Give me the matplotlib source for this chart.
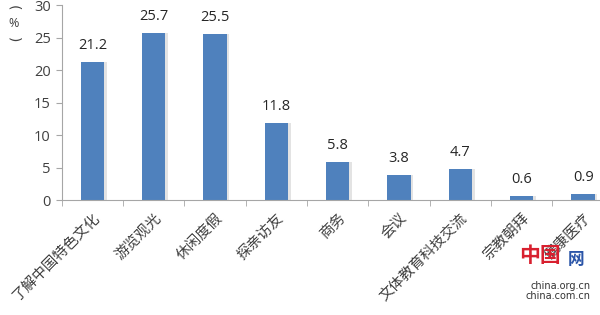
import matplotlib.pyplot as plt
import numpy as np

plt.rcParams['font.family'] = ['Noto Sans CJK SC', 'DejaVu Sans']

# data
categories = ['了解中国特色文化', '游览观光', '休闲度假', '探亲访友', '商务',
              '会议', '文体教育科技交流', '宗教朝拜', '健康医疗']
values = [21.2, 25.7, 25.5, 11.8, 5.8, 3.8, 4.7, 0.6, 0.9]
yticks = [0, 5, 10, 15, 20, 25, 30]

bar_color = '#4f81bd'
axis_color = '#a6a6a6'
text_color = '#404040'

fig = plt.figure(figsize=(6, 3.15), dpi=100)
ax = fig.add_axes([0.103, 0.365, 0.92, 0.619])

x = np.arange(len(categories))
# soft shadow behind the bars
ax.bar(x + 0.025, values, width=0.41, color='#e3e3e3', zorder=1)
ax.bar(x, values, width=0.38, color=bar_color, zorder=2)

for xi, v in zip(x, values):
    ax.text(xi, v + 1.4, f'{v}', ha='center', va='bottom',
            fontsize=10.5, color='#262626', family='Open Sans')

ax.set_xlim(-0.5, len(categories) - 0.5)
ax.set_ylim(0, 30)
ax.set_yticks(yticks)
ax.set_yticklabels([str(t) for t in yticks], fontsize=10.5, color=text_color,
                   family='Open Sans')

ax.set_xticks(x)
ax.set_xticklabels(categories, rotation=45, ha='right', rotation_mode='anchor',
                   fontsize=10.5, color=text_color)
ax.set_xticks(np.arange(len(categories) + 1) - 0.5, minor=True)
ax.tick_params(axis='x', which='major', length=0, pad=8)
ax.tick_params(axis='x', which='minor', length=4, color=axis_color)
ax.tick_params(axis='y', length=4, color=axis_color, pad=4)

for side in ['top', 'right']:
    ax.spines[side].set_visible(False)
for side in ['left', 'bottom']:
    ax.spines[side].set_color(axis_color)

# unit label, brackets turned like vertical text
fig.text(0.022, 0.975, '(', rotation=-90, ha='center', va='center',
         fontsize=10, color=text_color, family='DejaVu Sans')
fig.text(0.022, 0.925, '%', ha='center', va='center',
         fontsize=9, color=text_color, family='Open Sans')
fig.text(0.022, 0.875, ')', rotation=-90, ha='center', va='center',
         fontsize=10, color=text_color, family='DejaVu Sans')

# watermark
fig.text(0.985, 0.075, 'china.org.cn\nchina.com.cn', ha='right', va='center',
         fontsize=7, color='#333333', linespacing=1.0, family='DejaVu Sans')
fig.text(0.96, 0.175, '网', ha='center', va='center', fontsize=12,
         color='#2b55a8', fontweight='bold')
fig.text(0.9, 0.19, '中国', ha='center', va='center', fontsize=15,
         color='#d8202f', fontweight='bold')

fig.savefig('out.png', dpi=100)
